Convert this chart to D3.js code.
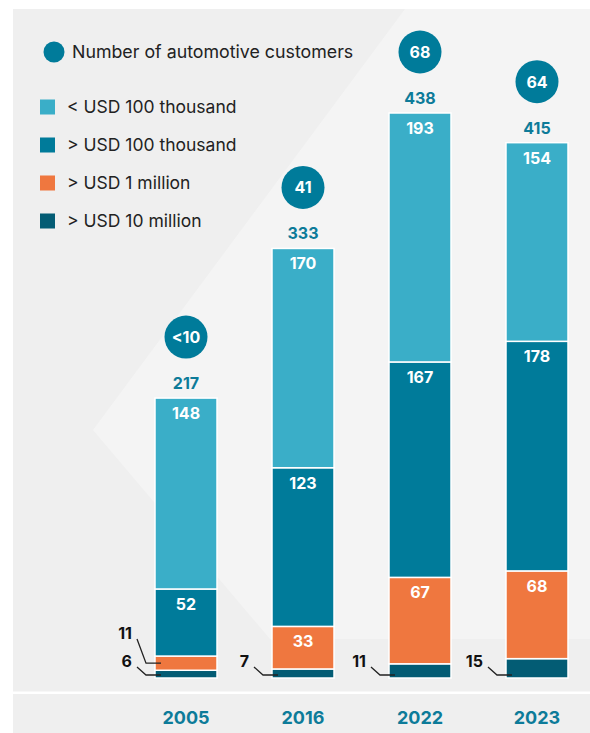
<!DOCTYPE html>
<html><head><meta charset="utf-8">
<script src="https://cdn.jsdelivr.net/npm/d3@7"></script>
<style>
html,body{margin:0;padding:0;background:#fff;}
svg{display:block;font-family:"Inter","Open Sans",sans-serif;}
</style></head>
<body>
<svg id="chart" width="590" height="733"></svg>
<script>
const years = ["2005","2016","2022","2023"];
const seriesNames = ["> USD 10 million","> USD 1 million","> USD 100 thousand","< USD 100 thousand"];
const over10m   = [6, 7, 11, 15];
const over1m    = [11, 33, 67, 68];
const over100k  = [52, 123, 167, 178];
const under100k = [148, 170, 193, 154];
const customers = ["<10","41","68","64"];
const colors = ["#035c74","#ef773f","#007b9a","#3aaec8"];
const legendOrder = [3,2,1,0];

const svg = d3.select("#chart");
// background panel
svg.append("rect").attr("x",13).attr("y",9).attr("width",577).attr("height",724).attr("fill","#efefef");
svg.append("path").attr("d","M405,9 L590,9 L590,639 L270,639 L93,430 Z").attr("fill","#f4f4f4");
svg.append("rect").attr("x",13).attr("y",691.5).attr("width",577).attr("height",2.5).attr("fill","#ffffff");

const values = [over10m, over1m, over100k, under100k];
const rows = years.map((yr,i)=>{ const o={year:yr}; values.forEach((v,k)=>o["s"+k]=v[i]); return o; });
const keys = ["s0","s1","s2","s3"];
const stack = d3.stack().keys(keys)(rows);

const x = d3.scaleBand().domain(years).range([155,568]).paddingInner(0.47).paddingOuter(0);
const y = d3.scaleLinear().domain([0,438]).range([678,113]);

// bars
const g = svg.append("g");
stack.forEach((layer,k)=>{
  g.selectAll(null).data(layer).enter().append("rect")
    .attr("x",d=>x(d.data.year))
    .attr("y",d=>y(d[1]))
    .attr("width",x.bandwidth())
    .attr("height",d=>y(d[0])-y(d[1]))
    .attr("fill",colors[k])
    .attr("stroke","#ffffff").attr("stroke-width",1.5);
});

// in-bar labels and small labels
years.forEach((yr,i)=>{
  const bx = x(yr), cx = bx + x.bandwidth()/2;
  let smallIdx = 0;
  stack.forEach((layer,k)=>{
    const d = layer[i], v = d[1]-d[0];
    if (v >= 20) {
      svg.append("text").attr("x",cx).attr("y",y(d[1])+21)
        .attr("text-anchor","middle").attr("fill","#fff")
        .attr("font-weight",700).attr("font-size",16).text(v);
    } else {
      const ty = 661 - 28*smallIdx;
      const ly = smallIdx===0 ? y(0)-3 : (y(d[0])+y(d[1]))/2;
      svg.append("text").attr("x",bx-23).attr("y",ty+6)
        .attr("text-anchor","end").attr("fill","#111")
        .attr("font-weight",700).attr("font-size",16).text(v);
      svg.append("path")
        .attr("d",`M${bx-18},${ty+6} L${bx-9},${ly} L${bx+6},${ly}`)
        .attr("fill","none").attr("stroke","#222").attr("stroke-width",1.3);
      smallIdx++;
    }
  });
  const top = y(stack[3][i][1]);
  svg.append("text").attr("x",cx).attr("y",top-9)
    .attr("text-anchor","middle").attr("fill","#0d7b99")
    .attr("font-weight",700).attr("font-size",16).text(stack[3][i][1]);
  svg.append("circle").attr("cx",cx).attr("cy",top-61).attr("r",21.5).attr("fill","#007b9a");
  svg.append("text").attr("x",cx).attr("y",top-61+6)
    .attr("text-anchor","middle").attr("fill","#fff")
    .attr("font-weight",700).attr("font-size",16).text(customers[i]);
  svg.append("text").attr("x",cx).attr("y",724)
    .attr("text-anchor","middle").attr("fill","#0d7b99")
    .attr("font-weight",700).attr("font-size",18).text(yr);
});

// legend
svg.append("circle").attr("cx",54).attr("cy",52).attr("r",10.5).attr("fill","#007b9a");
svg.append("text").attr("x",72).attr("y",58).attr("font-size",17.8).attr("fill","#222").text("Number of automotive customers");
legendOrder.forEach((k,j)=>{
  const cy = 107 + 38*j;
  svg.append("rect").attr("x",40).attr("y",cy-7.5).attr("width",15).attr("height",15).attr("fill",colors[k]);
  svg.append("text").attr("x",67).attr("y",cy+6).attr("font-size",17.5).attr("fill","#222").text(seriesNames[k]);
});
</script>
</body></html>
